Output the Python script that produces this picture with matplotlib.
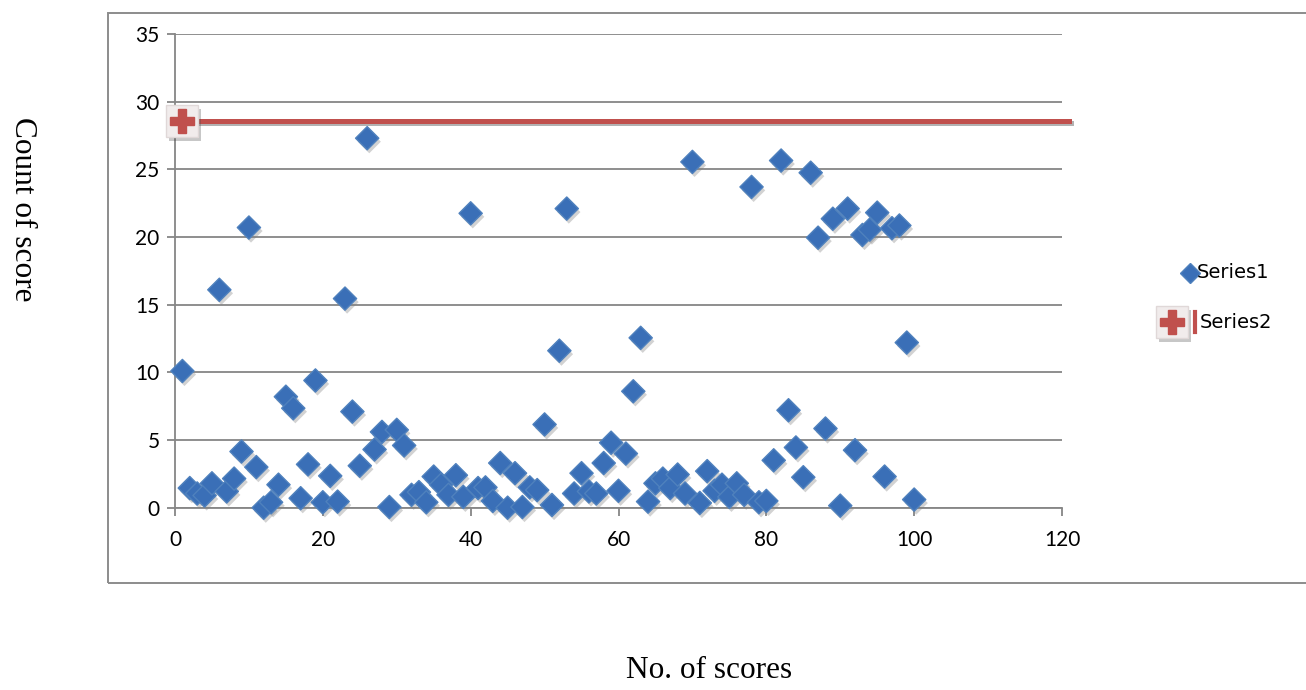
import matplotlib
matplotlib.use("Agg")
import matplotlib.pyplot as plt
import matplotlib.patheffects as pe
from matplotlib.lines import Line2D
from matplotlib.patches import Rectangle

# Series1: one count per score number
score_no = list(range(1, 101))
score_count = [
    10.1, 1.45, 1.05, 0.9, 1.8, 16.1, 1.2, 2.15, 4.15, 20.7,
    3.0, 0.0, 0.4, 1.7, 8.2, 7.35, 0.7, 3.2, 9.4, 0.4,
    2.35, 0.45, 15.45, 7.1, 3.1, 27.3, 4.3, 5.6, 0.05, 5.75,
    4.6, 0.95, 1.15, 0.4, 2.3, 1.7, 0.95, 2.4, 0.8, 21.75,
    1.45, 1.5, 0.5, 3.3, 0.0, 2.55, 0.05, 1.5, 1.3, 6.15,
    0.2, 11.6, 22.1, 1.05, 2.55, 1.2, 1.05, 3.3, 4.8, 1.25,
    4.0, 8.6, 12.55, 0.45, 1.8, 2.15, 1.45, 2.45, 1.05, 25.55,
    0.35, 2.7, 1.25, 1.7, 0.8, 1.8, 0.95, 23.7, 0.4, 0.5,
    3.5, 25.65, 7.2, 4.45, 2.25, 24.75, 19.95, 5.85, 21.35, 0.15,
    22.1, 4.25, 20.15, 20.55, 21.8, 2.3, 20.65, 20.85, 12.2, 0.6,
]

# Series2: threshold line
limit_x = [1, 121]
limit_y = [28.6, 28.6]

x_ticks = [0, 20, 40, 60, 80, 100, 120]
y_ticks = [0, 5, 10, 15, 20, 25, 30, 35]

BLUE = "#3A6FB7"
BLUE_EDGE = "#4F81BD"
RED = "#C0504D"
GRID = "#868686"

fig = plt.figure(figsize=(13.06, 6.90), dpi=100)
W, H = 1306, 690
ax = fig.add_axes([175 / W, 1 - 507.7 / H, (1062 - 175) / W, (507.7 - 34) / H])

shadow = [pe.SimplePatchShadow(offset=(1.5, -2.5), shadow_rgbFace="#808080", alpha=0.35), pe.Normal()]
box_shadow = [pe.SimplePatchShadow(offset=(2, -3), alpha=0.3), pe.Normal()]

for y in y_ticks:
    ax.axhline(y, color=GRID, lw=1.3, zorder=1)

ax.scatter(score_no, score_count, marker="D", s=140, facecolor=BLUE, edgecolor=BLUE_EDGE,
           linewidths=1.0, zorder=3, path_effects=shadow, clip_on=False)

ax.plot(limit_x, limit_y, color=RED, lw=3.6, zorder=2, clip_on=False,
        path_effects=[pe.SimpleLineShadow(offset=(1, -2), alpha=0.3), pe.Normal()])
ax.plot(limit_x[:1], limit_y[:1], marker="s", ms=23, color="#F1ECEC", mec="#E0D8D8",
        zorder=4, clip_on=False, path_effects=box_shadow)
ax.plot(limit_x[:1], limit_y[:1], marker="P", ms=17, color=RED, mec=RED, zorder=5, clip_on=False)

ax.set_xlim(0, 120)
ax.set_ylim(0, 35)
ax.set_xticks(x_ticks)
ax.set_yticks(y_ticks)
for side in ("top", "right"):
    ax.spines[side].set_visible(False)
for side in ("left", "bottom"):
    ax.spines[side].set_color(GRID)
    ax.spines[side].set_linewidth(1.3)
ax.tick_params(axis="both", colors=GRID, length=6, width=1.3, labelcolor="black",
               labelsize=15)
ax.tick_params(axis="x", pad=10)
ax.tick_params(axis="y", pad=5)
for lbl in ax.get_xticklabels() + ax.get_yticklabels():
    lbl.set_fontfamily("Lato")
ax.patch.set_alpha(0)

# chart area border (runs off the right edge)
fig.add_artist(Rectangle((108 / W, 1 - 583 / H), 1.2, (583 - 13) / H,
                         transform=fig.transFigure, fill=False, ec="#8C8C8C", lw=1.4))

# legend
fig.add_artist(Line2D([1190 / W], [1 - 273 / H], transform=fig.transFigure, marker="D",
                      ms=10, color=BLUE, mec=BLUE_EDGE))
fig.text(1197 / W, 1 - 273 / H, "Series1", fontsize=14, family="DejaVu Sans", va="center")
fig.add_artist(Line2D([1172 / W], [1 - 322 / H], transform=fig.transFigure, marker="s",
                      ms=23, color="#F1ECEC", mec="#E0D8D8", path_effects=box_shadow))
fig.add_artist(Line2D([1172 / W], [1 - 322 / H], transform=fig.transFigure, marker="P",
                      ms=17, color=RED, mec=RED))
fig.add_artist(Line2D([1195 / W, 1195 / W], [1 - 312 / H, 1 - 332 / H],
                      transform=fig.transFigure, color=RED, lw=3))
fig.text(1200 / W, 1 - 322 / H, "Series2", fontsize=14, family="DejaVu Sans", va="center")

fig.text(22 / W, 1 - 209 / H, "Count of score", rotation=-90, fontsize=22.5,
         family="Liberation Serif", ha="center", va="center")
fig.text(709 / W, 1 - 670 / H, "No. of scores", fontsize=22.5,
         family="Liberation Serif", ha="center", va="center")

fig.savefig("out.png", dpi=100)
